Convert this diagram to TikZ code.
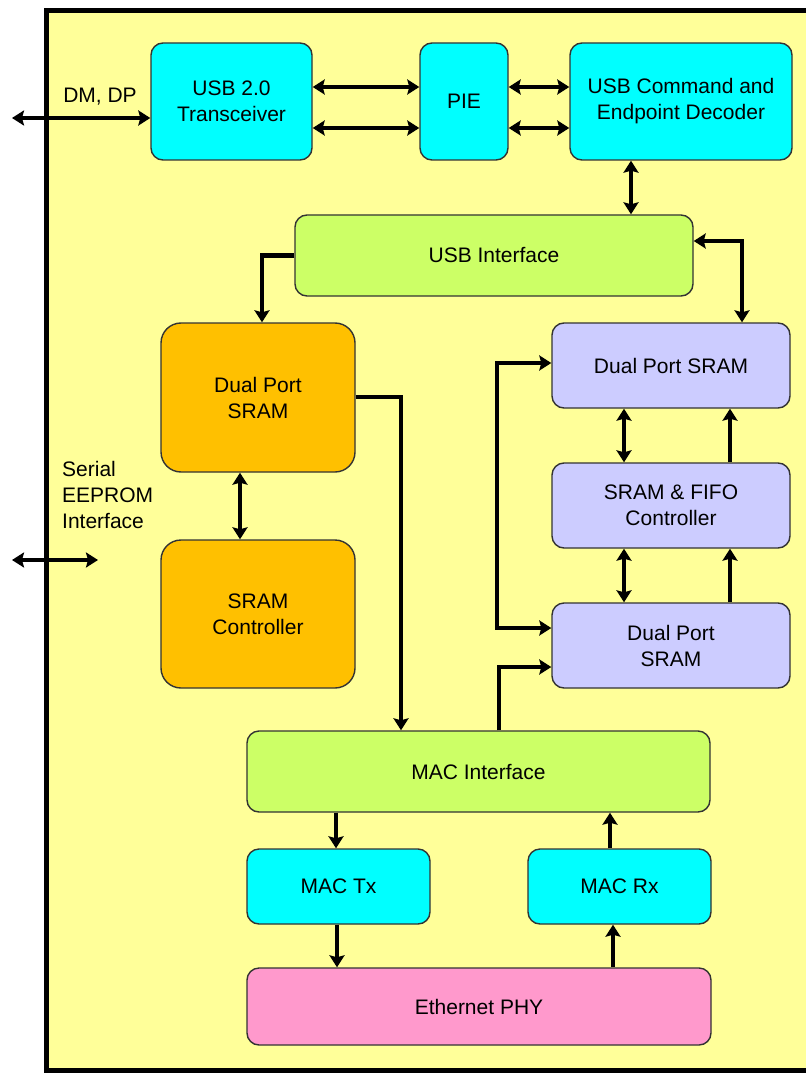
\documentclass[tikz,border=0pt]{standalone}
\usepackage{fontspec}
\setmainfont{Liberation Sans}
\usetikzlibrary{arrows.meta}
\definecolor{chipyellow}{HTML}{FFFF99}
\definecolor{usbcyan}{HTML}{00FFFF}
\definecolor{ifgreen}{HTML}{CCFF66}
\definecolor{sramorange}{HTML}{FFC000}
\definecolor{fifoblue}{HTML}{CCCCFF}
\definecolor{phypink}{HTML}{FF99CC}

\begin{document}
\begin{tikzpicture}[x=1pt,y=-1pt,
    blk/.style={draw=black!80,line width=1.4pt,rounded corners=12pt,align=center,
      inner sep=0pt,font=\fontsize{21}{26}\selectfont},
    lbl/.style={align=left,inner sep=0pt,font=\fontsize{21}{26}\selectfont},
    tip/.tip={Stealth[length=12pt,width=15pt,inset=2pt]},
    arr/.style={line width=4.5pt,-tip},
    darr/.style={line width=4.5pt,tip-tip}]
  \useasboundingbox (0,0) rectangle (805,1075);
  % chip outline
  \draw[line width=5pt,fill=chipyellow] (46,11) rectangle (840,1070);
  % usb side
  \node[blk,fill=usbcyan,minimum width=161pt,minimum height=117pt] (trx) at (231.5,101.5) {USB 2.0\\Transceiver};
  \node[blk,fill=usbcyan,minimum width=88pt,minimum height=117pt] (pie) at (464,101.5) {PIE};
  \node[blk,fill=usbcyan,minimum width=222pt,minimum height=117pt] (dec) at (681,101.5) {USB Command and\\Endpoint Decoder};
  \node[blk,fill=ifgreen,minimum width=398pt,minimum height=81pt] (usbif) at (494,255.5) {USB Interface};
  % buffers
  \node[blk,fill=sramorange,rounded corners=20pt,minimum width=194pt,minimum height=149pt] (dpl) at (258,397.5) {Dual Port\\SRAM};
  \node[blk,fill=sramorange,rounded corners=20pt,minimum width=194pt,minimum height=148pt] (sramc) at (258,614) {SRAM\\Controller};
  \node[blk,fill=fifoblue,minimum width=238pt,minimum height=85pt] (dpr1) at (671,365.5) {Dual Port SRAM};
  \node[blk,fill=fifoblue,minimum width=238pt,minimum height=85pt] (fifo) at (671,505.5) {SRAM \& FIFO\\Controller};
  \node[blk,fill=fifoblue,minimum width=238pt,minimum height=85pt] (dpr2) at (671,645.5) {Dual Port\\SRAM};
  % mac side
  \node[blk,fill=ifgreen,minimum width=463pt,minimum height=81pt] (macif) at (478.5,771.5) {MAC Interface};
  \node[blk,fill=usbcyan,minimum width=183pt,minimum height=75pt] (mactx) at (338.5,886.5) {MAC Tx};
  \node[blk,fill=usbcyan,minimum width=183pt,minimum height=75pt] (macrx) at (619.5,886.5) {MAC Rx};
  \node[blk,fill=phypink,minimum width=464pt,minimum height=77pt] (phy) at (479,1006.5) {Ethernet PHY};
  % external pins
  \coordinate (dmend) at (12,118);
  \coordinate (eel) at (12,560);
  \coordinate (eer) at (98,560);
  \node[lbl] (dmlbl) at (100,97) {DM, DP};
  \node[lbl,anchor=north west] (eelbl) at (62,461) {Serial\\EEPROM\\Interface};
  \draw[darr] (dmend) -- (dmend -| trx.west);
  \draw[darr] (eel) -- (eer);
  % connections
  \foreach \y in {87,128}{
    \draw[darr] (trx.east |- 0,\y) -- (pie.west |- 0,\y);
    \draw[darr] (pie.east |- 0,\y) -- (dec.west |- 0,\y);
  }
  \draw[darr] (dec.south -| 631,0) -- (usbif.north -| 631,0);
  \draw[arr] (usbif.west) -| (dpl.north -| 262,0);
  \draw[darr] (usbif.east |- 0,241) -| (dpr1.north -| 742,0);
  \draw[darr] (dpl.south -| 240,0) -- (sramc.north -| 240,0);
  \draw[arr] (dpl.east |- 0,397) -| (macif.north -| 401,0);
  \draw[darr] (dpr1.west |- 0,363) -- (497,363) -- (497,628) -- (dpr2.west |- 0,628);
  \draw[arr] (macif.north -| 499,0) |- (dpr2.west |- 0,667);
  \draw[darr] (dpr1.south -| 624,0) -- (fifo.north -| 624,0);
  \draw[darr] (fifo.south -| 624,0) -- (dpr2.north -| 624,0);
  \draw[arr] (fifo.north -| 730,0) -- (dpr1.south -| 730,0);
  \draw[arr] (dpr2.north -| 730,0) -- (fifo.south -| 730,0);
  \draw[arr] (macif.south -| 336,0) -- (mactx.north -| 336,0);
  \draw[arr] (macrx.north -| 610,0) -- (macif.south -| 610,0);
  \draw[arr] (mactx.south -| 337,0) -- (phy.north -| 337,0);
  \draw[arr] (phy.north -| 613,0) -- (macrx.south -| 613,0);
\end{tikzpicture}
\end{document}
